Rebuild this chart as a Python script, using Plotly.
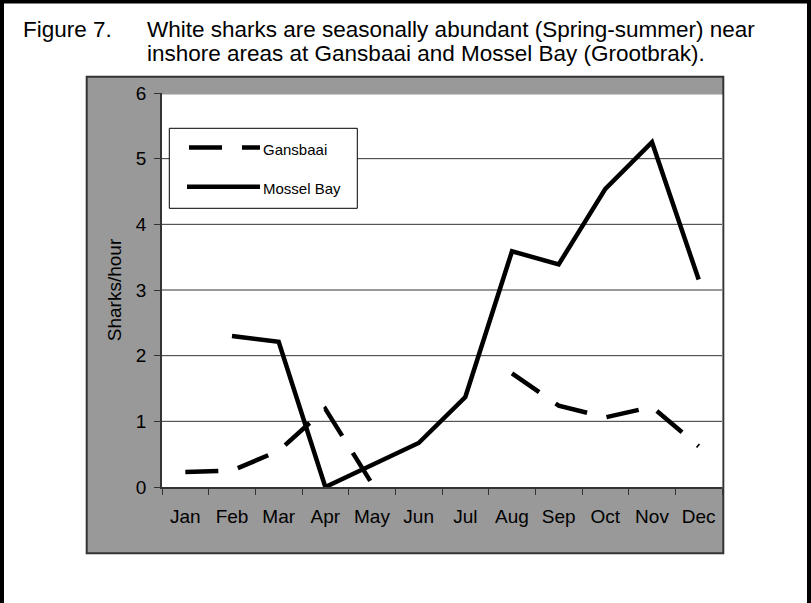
import plotly.graph_objects as go

# Monthly sighting rates (sharks per hour)
months = ["Jan", "Feb", "Mar", "Apr", "May", "Jun",
          "Jul", "Aug", "Sep", "Oct", "Nov", "Dec"]
gansbaai = [0.23, 0.25, 0.55, 1.19, 0.05, None, None, 1.73, 1.24, 1.06, 1.22, 0.62]
mossel_bay = [None, 2.30, 2.21, 0.0, 0.34, 0.67, 1.37, 3.59, 3.39, 4.54, 5.25, 3.16]
series_names = ["Gansbaai", "Mossel Bay"]
y_ticks = [0, 1, 2, 3, 4, 5, 6]

FONT = "Arial, Liberation Sans, sans-serif"
W, H = 811, 603
# plot-area box in pixels
L, R, T, B = 162, 722, 93, 487


def px(x):
    return (x - L) / (R - L)


def py(y):
    return (B - y) / (B - T)


DASH = "33px,20px"

fig = go.Figure()
fig.add_trace(go.Scatter(
    x=months, y=gansbaai, mode="lines", name=series_names[0],
    line=dict(color="black", width=4.5, dash=DASH),
    connectgaps=False, showlegend=False,
))
fig.add_trace(go.Scatter(
    x=months, y=mossel_bay, mode="lines", name=series_names[1],
    line=dict(color="black", width=4.5),
    connectgaps=False, showlegend=False,
))

shapes = []
# grey chart frame
shapes.append(dict(type="rect", xref="paper", yref="paper", layer="below",
                   x0=px(86.7), x1=px(723.3), y0=py(553.3), y1=py(76.7),
                   fillcolor="#999999", line=dict(color="#333333", width=2)))
# white plot area
shapes.append(dict(type="rect", xref="paper", yref="paper", layer="below",
                   x0=px(L), x1=px(722.3), y0=py(B), y1=py(94.5),
                   fillcolor="white", line=dict(width=0)))
# horizontal grid lines
for v in y_ticks[1:-1]:
    shapes.append(dict(type="line", xref="paper", yref="y", layer="below",
                       x0=0, x1=1, y0=v, y1=v,
                       line=dict(color="#333333", width=1)))
# page border
shapes.append(dict(type="rect", xref="paper", yref="paper", layer="above",
                   x0=px(2), x1=px(809), y0=py(615), y1=py(1.5),
                   line=dict(color="black", width=4), fillcolor="rgba(0,0,0,0)"))
# legend box and samples
shapes.append(dict(type="rect", xref="paper", yref="paper", layer="above",
                   x0=px(169.3), x1=px(357.3), y0=py(208.3), y1=py(128.3),
                   fillcolor="white", line=dict(color="black", width=1)))
shapes.append(dict(type="line", xref="paper", yref="paper", layer="above",
                   x0=px(189), x1=px(260), y0=py(147.5), y1=py(147.5),
                   line=dict(color="black", width=4.5, dash=DASH)))
shapes.append(dict(type="line", xref="paper", yref="paper", layer="above",
                   x0=px(187), x1=px(260), y0=py(186.8), y1=py(186.8),
                   line=dict(color="black", width=4.5)))

TITLE_FONT = dict(family=FONT, size=22.5, color="black")
annotations = [
    dict(text="Figure 7.", x=px(20.5), y=py(29.5), xref="paper", yref="paper",
         xanchor="left", yanchor="middle", showarrow=False, font=TITLE_FONT),
    dict(text="White sharks are seasonally abundant (Spring-summer) near",
         x=px(144.5), y=py(29.5), xref="paper", yref="paper",
         xanchor="left", yanchor="middle", showarrow=False, font=TITLE_FONT),
    dict(text="inshore areas at Gansbaai and Mossel Bay (Grootbrak).",
         x=px(144.5), y=py(54), xref="paper", yref="paper",
         xanchor="left", yanchor="middle", showarrow=False, font=TITLE_FONT),
    dict(text=series_names[0], x=px(261), y=py(149.5), xref="paper", yref="paper",
         xanchor="left", yanchor="middle", showarrow=False,
         font=dict(family=FONT, size=15, color="black")),
    dict(text=series_names[1], x=px(261), y=py(188), xref="paper", yref="paper",
         xanchor="left", yanchor="middle", showarrow=False,
         font=dict(family=FONT, size=15, color="black")),
]

fig.update_layout(
    width=W, height=H,
    margin=dict(l=L, r=W - R, t=T, b=H - B, pad=0),
    paper_bgcolor="white", plot_bgcolor="rgba(0,0,0,0)",
    shapes=shapes, annotations=annotations,
    font=dict(family=FONT, color="black"),
    xaxis=dict(
        type="category", categoryorder="array", categoryarray=months,
        range=[-0.5, 11.5], tickson="boundaries",
        ticks="outside", ticklen=6, tickwidth=1, tickcolor="#333333",
        showline=True, linecolor="#333333", linewidth=1.5,
        showgrid=False, zeroline=False,
        tickfont=dict(family=FONT, size=19, color="black"),
        ticklabelstandoff=11,
    ),
    yaxis=dict(
        range=[0, 6], tickvals=y_ticks,
        ticks="outside", ticklen=6, tickwidth=1, tickcolor="#333333",
        showline=True, linecolor="#333333", linewidth=1.5,
        showgrid=False, zeroline=False,
        tickfont=dict(family=FONT, size=19, color="black"),
        ticklabelstandoff=4,
        title=dict(text="Sharks/hour", standoff=9,
                   font=dict(family=FONT, size=19, color="black")),
    ),
)

fig.write_html("out.html")
